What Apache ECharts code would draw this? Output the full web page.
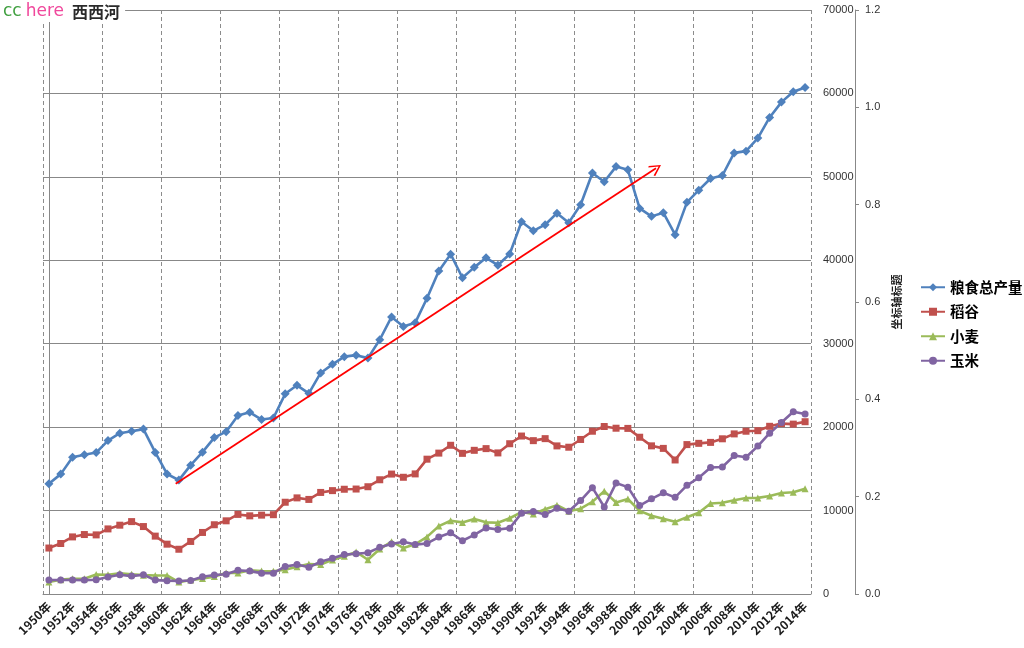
<!DOCTYPE html>
<html>
<head>
<meta charset="utf-8">
<script src="https://cdn.jsdelivr.net/npm/echarts@6/dist/echarts.min.js"></script>
<style>
html,body{margin:0;padding:0;background:#fff;}
#chart{width:1024px;height:648px;}
</style>
</head>
<body>
<div id="chart"></div>
<script>
var years = [];
for (var y = 1950; y <= 2014; y++) { years.push(y + '年'); }

var grain = [13213,14369,16392,16683,16952,18394,19275,19505,19765,16968,
             14385,13650,15441,17000,18750,19453,21400,21782,20906,21097,
             23996,25014,24048,26494,27527,28452,28631,28273,30477,33212,
             32056,32502,35450,38728,40731,37911,39151,40298,39408,40755,
             44624,43529,44266,45649,44510,46662,50454,49417,51230,50839,
             46218,45264,45706,43070,46947,48402,49804,50160,52871,53082,
             54648,57121,58958,60194,60703];
var rice = [5510,6056,6843,7127,7085,7802,8248,8678,8085,6937,
            5973,5364,6299,7377,8300,8772,9539,9369,9453,9507,
            10999,11521,11336,12174,12391,12556,12581,12857,13693,14375,
            13991,14396,16160,16887,17826,16857,17222,17426,16911,18013,
            18933,18381,18622,17751,17593,18523,19510,20074,19871,19849,
            18791,17758,17454,16066,17909,18059,18172,18603,19190,19510,
            19576,20100,20424,20361,20651];
var wheat = [1450,1723,1813,1828,2334,2297,2480,2364,2259,2218,
             2217,1425,1667,1848,2084,2522,2528,2849,2746,2729,
             2919,3258,3599,3523,4087,4531,5039,4108,5384,6273,
             5521,5964,6847,8139,8782,8581,9004,8590,8543,9081,
             9823,9595,10159,10639,9930,10221,11057,12329,10973,11388,
             9964,9387,9029,8649,9195,9745,10847,10930,11246,11512,
             11518,11740,12102,12193,12621];
var corn = [1685,1684,1685,1669,1714,2032,2305,2144,2314,1664,
            1603,1550,1626,2058,2269,2366,2841,2743,2501,2500,
            3303,3525,3209,3862,4291,4722,4816,4939,5595,6004,
            6260,5921,6056,6821,7341,6383,7086,7924,7735,7893,
            9682,9877,9538,10270,9928,11199,12747,10431,13295,12809,
            10600,11409,12131,11583,13029,13937,15160,15230,16591,16397,
            17725,19278,20561,21849,21565];
var seriesNames = ['粮食总产量', '稻谷', '小麦', '玉米'];
var arrowStart = [10.73, 13220];
var arrowEnd = [51.38, 51025];

var chart = echarts.init(document.getElementById('chart'));
var numFont = 'Liberation Sans';
var cjk = 'Noto Sans CJK SC';
var gridColor = '#888888';

function lineSeries(name, data, color, symbol, size) {
  return {
    name: name, type: 'line', data: data,
    xAxisIndex: 0, yAxisIndex: 0,
    symbol: symbol, symbolSize: size, showSymbol: true, showAllSymbol: true,
    lineStyle: { color: color, width: 2.6 },
    itemStyle: { color: color },
    emphasis: { disabled: true },
    animation: false
  };
}

chart.setOption({
  animation: false,
  backgroundColor: '#ffffff',
  textStyle: { fontFamily: cjk },
  title: {
    text: '{a|cc} {b|here}  {c|西西河}',
    left: 1, top: 2,
    padding: [1, 5, 1, 2],
    backgroundColor: '#ffffff',
    textStyle: {
      fontWeight: 'normal',
      rich: {
        a: { color: '#3f9f3f', fontSize: 17, fontFamily: 'DejaVu Sans', fontWeight: 'normal' },
        b: { color: '#f0489c', fontSize: 17, fontFamily: 'DejaVu Sans', fontWeight: 'normal' },
        c: { color: '#2a2a2a', fontSize: 16, fontFamily: cjk, fontWeight: 'bold' }
      }
    }
  },
  legend: {
    orient: 'vertical',
    left: 920, top: 280, padding: 0,
    itemWidth: 24, itemHeight: 10, itemGap: 10,
    data: seriesNames,
    textStyle: { fontSize: 14.5, fontWeight: 'bold', color: '#000', fontFamily: cjk }
  },
  grid: { left: 43, right: 213, top: 10, bottom: 54, containLabel: false },
  xAxis: [{
    type: 'category', data: years, boundaryGap: true,
    axisLine: { lineStyle: { color: gridColor, width: 1 } },
    axisTick: { show: false },
    axisLabel: { interval: 1, rotate: 45, fontSize: 12, color: '#1a1a1a', fontFamily: cjk, fontWeight: 'bold', margin: 10 },
    splitLine: { show: true, interval: 4, lineStyle: { color: '#8c8c8c', type: [4, 3], width: 1 } }
  }, {
    type: 'value', min: -0.5, max: 64.5, show: false, gridIndex: 0
  }],
  yAxis: [{
    type: 'value', position: 'right', min: 0, max: 70000, interval: 10000,
    axisLine: { show: true, lineStyle: { color: gridColor } },
    axisTick: { show: false },
    axisLabel: { margin: 12, fontSize: 11, color: '#333', fontFamily: numFont,
      formatter: function (v) { return String(v); } },
    splitLine: { show: true, lineStyle: { color: gridColor, width: 1 } }
  }, {
    type: 'value', position: 'right', offset: 44, min: 0, max: 1.2, interval: 0.2,
    axisLine: { show: true, lineStyle: { color: gridColor } },
    axisTick: { show: true, length: 4, lineStyle: { color: gridColor } },
    axisLabel: { margin: 10, fontSize: 11, color: '#333', fontFamily: numFont,
      formatter: function (v) { return v.toFixed(1); } },
    splitLine: { show: false },
    name: '坐标轴标题', nameLocation: 'middle', nameGap: 25,
    nameTextStyle: { fontSize: 11, fontWeight: 'bold', color: '#222', fontFamily: cjk }
  }],
  series: [
    lineSeries(seriesNames[0], grain, '#4f81bd', 'diamond', 9),
    lineSeries(seriesNames[1], rice, '#c0504d', 'rect', 7),
    lineSeries(seriesNames[2], wheat, '#9bbb59', 'triangle', 7),
    lineSeries(seriesNames[3], corn, '#8064a2', 'circle', 7),
    {
      type: 'lines', coordinateSystem: 'cartesian2d', xAxisIndex: 1, yAxisIndex: 0,
      symbol: ['none', 'path://M5,0 L10,9 L9,10 L5,2.4 L1,10 L0,9 Z'],
      symbolSize: 12,
      lineStyle: { color: '#ff0000', width: 1.8, opacity: 1 },
      data: [{ coords: [arrowStart, arrowEnd] }],
      silent: true, animation: false, z: 5
    }
  ]
});
</script>
</body>
</html>
